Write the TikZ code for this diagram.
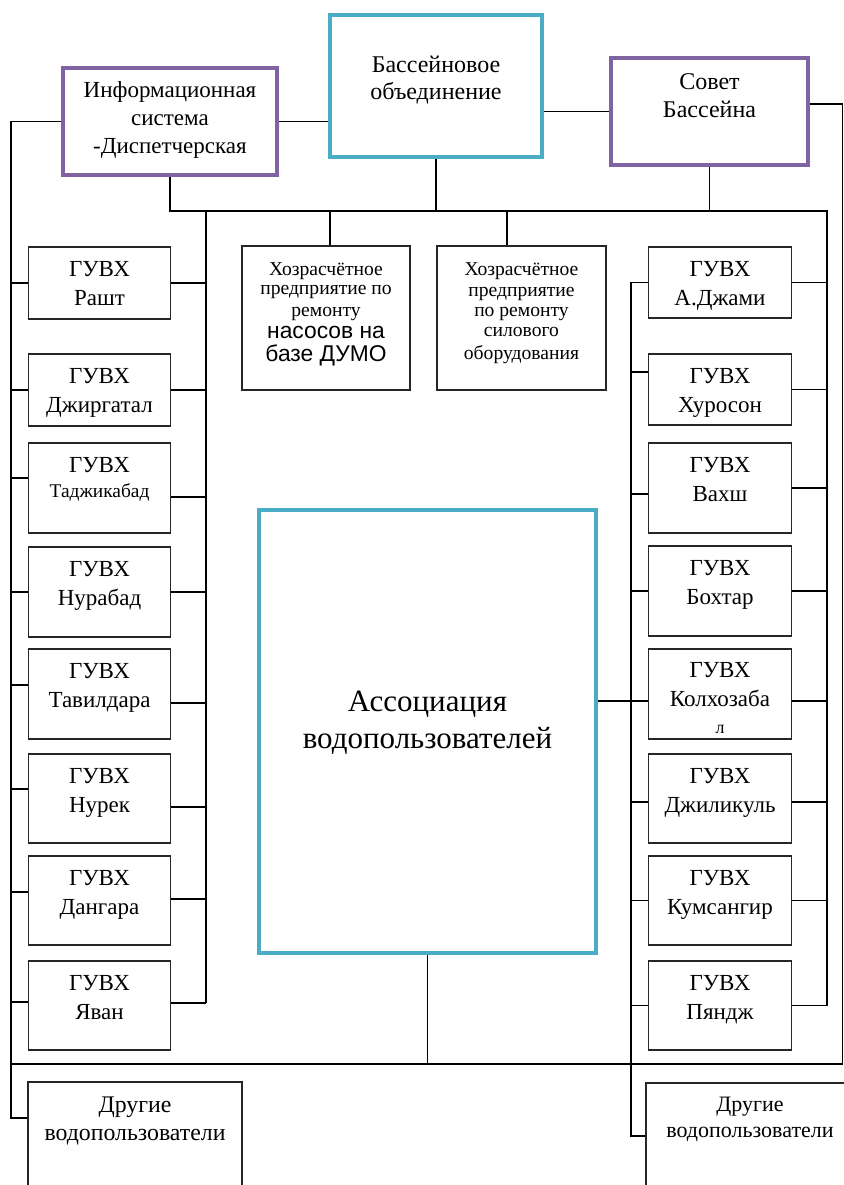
\documentclass[tikz,border=0pt]{standalone}
\usepackage{fontspec}
\setmainfont{Liberation Serif}
\newfontfamily\arialf{Liberation Sans}
\definecolor{basinblue}{RGB}{75, 172, 198}
\definecolor{councilviolet}{RGB}{128, 100, 162}
\usetikzlibrary{calc}
\tikzset{
  gbox/.style={draw=black!85, line width=0.6pt, inner sep=0pt, minimum width=71.25pt},
  mainbox/.style={draw=#1, line width=2pt, inner sep=0pt},
  tlab/.style={align=center, anchor=north, inner sep=0pt, font=\fontsize{11.5}{14.5}\selectfont},
  guvx/.style={label={[tlab, yshift=-7.5pt]north:#1}},
  conn/.style={line width=0.6pt}
}

\begin{document}
\begin{tikzpicture}[x=0.5pt, y=-0.5pt]
  \useasboundingbox (0,0) rectangle (844,1185);

  % Top level
  \node[mainbox=basinblue, minimum width=106pt, minimum height=71pt,
    label={[tlab, font=\fontsize{12}{13.5}\selectfont, yshift=-21.5pt]north:Бассейновое\\объединение}] (bo) at (436,86) {};
  \node[mainbox=councilviolet, minimum width=107pt, minimum height=53.5pt,
    label={[tlab, font=\fontsize{11.5}{14}\selectfont, yshift=-7.5pt]north:Информационная\\система\\-Диспетчерская}] (is) at (170,121.5) {};
  \node[mainbox=councilviolet, minimum width=98.5pt, minimum height=53.5pt,
    label={[tlab, font=\fontsize{12}{14}\selectfont, yshift=-8.5pt]north:Совет\\Бассейна}] (sb) at (709.5,111.5) {};

  % Enterprises
  \node[gbox, minimum width=84pt, minimum height=72pt,
    label={[tlab, font=\fontsize{9.8}{9.5}\selectfont, yshift=-8.5pt]north:Хозрасчётное\\предприятие по\\[1.5pt]ремонту\\[1.5pt]{\arialf\fontsize{11.4}{12}\selectfont насосов на}\\[2pt]{\arialf\fontsize{11.4}{12}\selectfont базе ДУМО}}] (hz1) at (326,318) {};
  \node[gbox, minimum width=84.5pt, minimum height=72pt,
    label={[tlab, font=\fontsize{9.8}{10.2}\selectfont, yshift=-8.5pt]north:Хозрасчётное\\предприятие\\по ремонту\\силового\\[1.3pt]оборудования}] (hz2) at (521.5,318) {};

  % Association
  \node[mainbox=basinblue, line width=2.4pt, minimum width=168.5pt, minimum height=221.5pt,
    label={[tlab, font=\fontsize{15.5}{18.5}\selectfont, yshift=-91.5pt]north:Ассоциация\\водопользователей}] (av) at (427.5,731.5) {};

  % Left column
  \node[gbox, minimum height=36pt, guvx={ГУВХ\\Рашт}] (rasht) at (99.5,283) {};
  \node[gbox, minimum height=36pt, guvx={ГУВХ\\Джиргатал}] (dzhirg) at (99.5,390) {};
  \node[gbox, minimum height=45pt, guvx={ГУВХ\\[-2pt]{\fontsize{9.7}{11}\selectfont Таджикабад}}] (tadzh) at (99.5,488) {};
  \node[gbox, minimum height=45pt, guvx={ГУВХ\\Нурабад}] (nurab) at (99.5,592) {};
  \node[gbox, minimum height=45pt, guvx={ГУВХ\\Тавилдара}] (tavil) at (99.5,694) {};
  \node[gbox, minimum height=44.5pt, guvx={ГУВХ\\Нурек}] (nurek) at (99.5,798.5) {};
  \node[gbox, minimum height=44.5pt, guvx={ГУВХ\\Дангара}] (dangara) at (99.5,900.5) {};
  \node[gbox, minimum height=44.5pt, guvx={ГУВХ\\Яван}] (yavan) at (99.5,1005.5) {};

  % Right column
  \node[gbox, minimum height=35.5pt, guvx={ГУВХ\\А.Джами}] (adzh) at (720,282.5) {};
  \node[gbox, minimum height=35.5pt, guvx={ГУВХ\\Хуросон}] (khur) at (720,389.5) {};
  \node[gbox, minimum height=45pt, guvx={ГУВХ\\Вахш}] (vakhsh) at (720,488) {};
  \node[gbox, minimum height=45pt, guvx={ГУВХ\\Бохтар}] (bokht) at (720,591) {};
  \node[gbox, minimum height=45pt,
    label={[tlab, yshift=-7pt]north:ГУВХ\\Колхозаба\\[-1pt]{\fontsize{9}{10}\selectfont л}}] (kolkh) at (720,694) {};
  \node[gbox, minimum height=44.5pt, guvx={ГУВХ\\Джиликуль}] (dzhil) at (720,798.5) {};
  \node[gbox, minimum height=44.5pt, guvx={ГУВХ\\Кумсангир}] (kums) at (720,900.5) {};
  \node[gbox, minimum height=44.5pt, guvx={ГУВХ\\Пяндж}] (pyandzh) at (720,1005.5) {};

  % Other users
  \node[gbox, minimum width=107pt, minimum height=59pt,
    label={[tlab, font=\fontsize{11.9}{14}\selectfont, yshift=-7.5pt]north:Другие\\водопользователи}] (dl) at (135,1141) {};
  \node[gbox, minimum width=104pt, minimum height=58.5pt,
    label={[tlab, font=\fontsize{11}{13}\selectfont, yshift=-7pt]north:Другие\\водопользователи}] (dr) at (750,1141.5) {};

  % Bus points
  \coordinate (bus) at (827,211);
  \coordinate (li) at (206,211);
  \coordinate (b2) at (507,211);
  \coordinate (lob) at (11,1118);
  \coordinate (rib) at (631,1136);
  \coordinate (bb) at (11,1064);
  \coordinate (frb) at (842.5,1064);

  % Top links
  \draw[conn] (is.east) -- (is.east -| bo.west);
  \draw[conn] (sb.west) -- (sb.west -| bo.east);
  \draw[conn] ([yshift=3.75pt]sb.east) -| (frb);
  \draw[conn] (is.south) |- (bus) -- (bus |- pyandzh.east);
  \draw[conn] (bo.south) -- (bo.south |- bus);
  \draw[conn] (sb.south) -- (sb.south |- bus);
  \draw[conn] ([xshift=2pt]hz1.north) -- ([xshift=2pt]hz1.north |- bus);
  \draw[conn] (b2) -- (b2 |- hz2.north);

  % Vertical lines
  \draw[conn] (is.west) -| (lob) -- (lob -| dl.west);
  \draw[conn] (li) -- ([yshift=1.25pt]yavan.east -| li);
  \draw[conn] (adzh.west) -| (rib) -- (rib -| dr.west);
  \draw[conn] (bb) -- (frb);
  \draw[conn] (av.south) -- (av.south |- bb);
  \draw[conn] ([yshift=15.25pt]av.east) -- ([yshift=-3.5pt]kolkh.west);

  % Left column links
  \draw[conn] (rasht.west -| lob) -- (rasht.west) (rasht.east) -- (rasht.east -| li);
  \draw[conn] (dzhirg.west -| lob) -- (dzhirg.west) (dzhirg.east) -- (dzhirg.east -| li);
  \draw[conn] ([yshift=5pt]tadzh.west -| lob) -- ([yshift=5pt]tadzh.west) ([yshift=-4.5pt]tadzh.east) -- ([yshift=-4.5pt]tadzh.east -| li);
  \draw[conn] (nurab.west -| lob) -- (nurab.west) (nurab.east) -- (nurab.east -| li);
  \draw[conn] ([yshift=4.5pt]tavil.west -| lob) -- ([yshift=4.5pt]tavil.west) ([yshift=-4.5pt]tavil.east) -- ([yshift=-4.5pt]tavil.east -| li);
  \draw[conn] ([yshift=4.75pt]nurek.west -| lob) -- ([yshift=4.75pt]nurek.west) ([yshift=-4.25pt]nurek.east) -- ([yshift=-4.25pt]nurek.east -| li);
  \draw[conn] ([yshift=4.25pt]dangara.west -| lob) -- ([yshift=4.25pt]dangara.west) ([yshift=0.75pt]dangara.east) -- ([yshift=0.75pt]dangara.east -| li);
  \draw[conn] ([yshift=1.75pt]yavan.west -| lob) -- ([yshift=1.75pt]yavan.west) ([yshift=1.25pt]yavan.east) -- ([yshift=1.25pt]yavan.east -| li);

  % Right column links
  \draw[conn] (adzh.east) -- (adzh.east -| bus);
  \draw[conn] ([yshift=8.75pt]khur.west -| rib) -- ([yshift=8.75pt]khur.west) (khur.east) -- (khur.east -| bus);
  \draw[conn] ([yshift=-3pt]vakhsh.west -| rib) -- ([yshift=-3pt]vakhsh.west) (vakhsh.east) -- (vakhsh.east -| bus);
  \draw[conn] (bokht.west -| rib) -- (bokht.west) (bokht.east) -- (bokht.east -| bus);
  \draw[conn] ([yshift=-3.5pt]kolkh.east) -- ([yshift=-3.5pt]kolkh.east -| bus);
  \draw[conn] ([yshift=-1.75pt]dzhil.west -| rib) -- ([yshift=-1.75pt]dzhil.west) ([yshift=-1.75pt]dzhil.east) -- ([yshift=-1.75pt]dzhil.east -| bus);
  \draw[conn] (kums.west -| rib) -- (kums.west) (kums.east) -- (kums.east -| bus);
  \draw[conn] (pyandzh.west -| rib) -- (pyandzh.west) (pyandzh.east) -- (pyandzh.east -| bus);
\end{tikzpicture}
\end{document}
